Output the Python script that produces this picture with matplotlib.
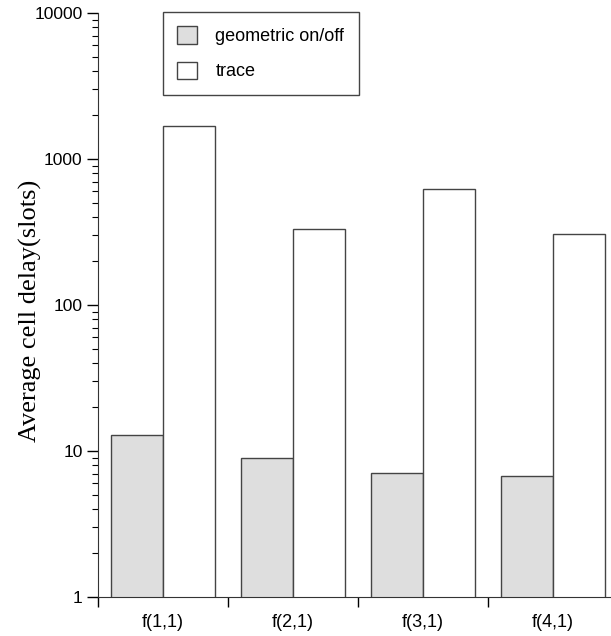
import matplotlib.pyplot as plt
import matplotlib.ticker as ticker
import numpy as np

groups = ['f(1,1)', 'f(2,1)', 'f(3,1)', 'f(4,1)']
geometric = [12.9, 8.9, 7.1, 6.7]
trace = [1680, 330, 626, 305]

fig = plt.figure(figsize=(6.11, 6.36), dpi=100)
ax = fig.add_axes([98/611, 39/636, 520/611, 584/636])

x = np.arange(len(groups))
w = 0.4
b1 = ax.bar(x - w/2, geometric, w, color='#dedede', edgecolor='#444444',
            lw=1, label='geometric on/off')
b2 = ax.bar(x + w/2, trace, w, color='white', edgecolor='#444444',
            lw=1, label='trace')

ax.set_yscale('log')
ax.set_ylim(1, 10000)
ax.set_xlim(-0.5, len(groups) - 0.5)

ax.yaxis.set_major_locator(ticker.LogLocator(base=10, numticks=10))
ax.yaxis.set_major_formatter(ticker.FuncFormatter(lambda v, p: '%d' % v))
ax.yaxis.set_minor_locator(ticker.LogLocator(base=10, subs=np.arange(2, 10), numticks=10))
ax.yaxis.set_minor_formatter(ticker.NullFormatter())

# boundaries between groups get the tick marks, group names sit in between
ax.set_xticks(np.arange(len(groups) + 1) - 0.5)
ax.set_xticklabels([])
ax.set_xticks(x, minor=True)
ax.set_xticklabels(groups, minor=True, fontsize=13, family='Liberation Sans')
ax.tick_params(axis='x', which='major', length=7, width=1, direction='out')
ax.tick_params(axis='x', which='minor', length=0, pad=12)
ax.tick_params(axis='y', which='major', length=8, width=1, labelsize=12.5, pad=3)
ax.tick_params(axis='y', which='minor', length=4, width=0.8)
for lbl in ax.get_yticklabels():
    lbl.set_family('Liberation Sans')

ax.spines['top'].set_visible(False)
ax.spines['right'].set_visible(False)
ax.spines['left'].set_color('#333333')
ax.spines['bottom'].set_color('#333333')

ax.set_ylabel('Average cell delay(slots)', family='Liberation Serif', fontsize=19)
ax.yaxis.set_label_coords((42 - 98) / 520, 0.49)

leg = fig.legend(handles=[b1, b2], loc='upper left', bbox_to_anchor=(163/611, 1 - 12/636),
                 bbox_transform=fig.transFigure, borderaxespad=0, fancybox=False,
                 framealpha=1, edgecolor='#444444', prop={'family': 'Liberation Sans', 'size': 13},
                 handlelength=1.1, handleheight=1.1, labelspacing=0.9,
                 handletextpad=1.0, borderpad=0.8)
leg.get_frame().set_linewidth(1)

fig.savefig('out.png', dpi=100)
